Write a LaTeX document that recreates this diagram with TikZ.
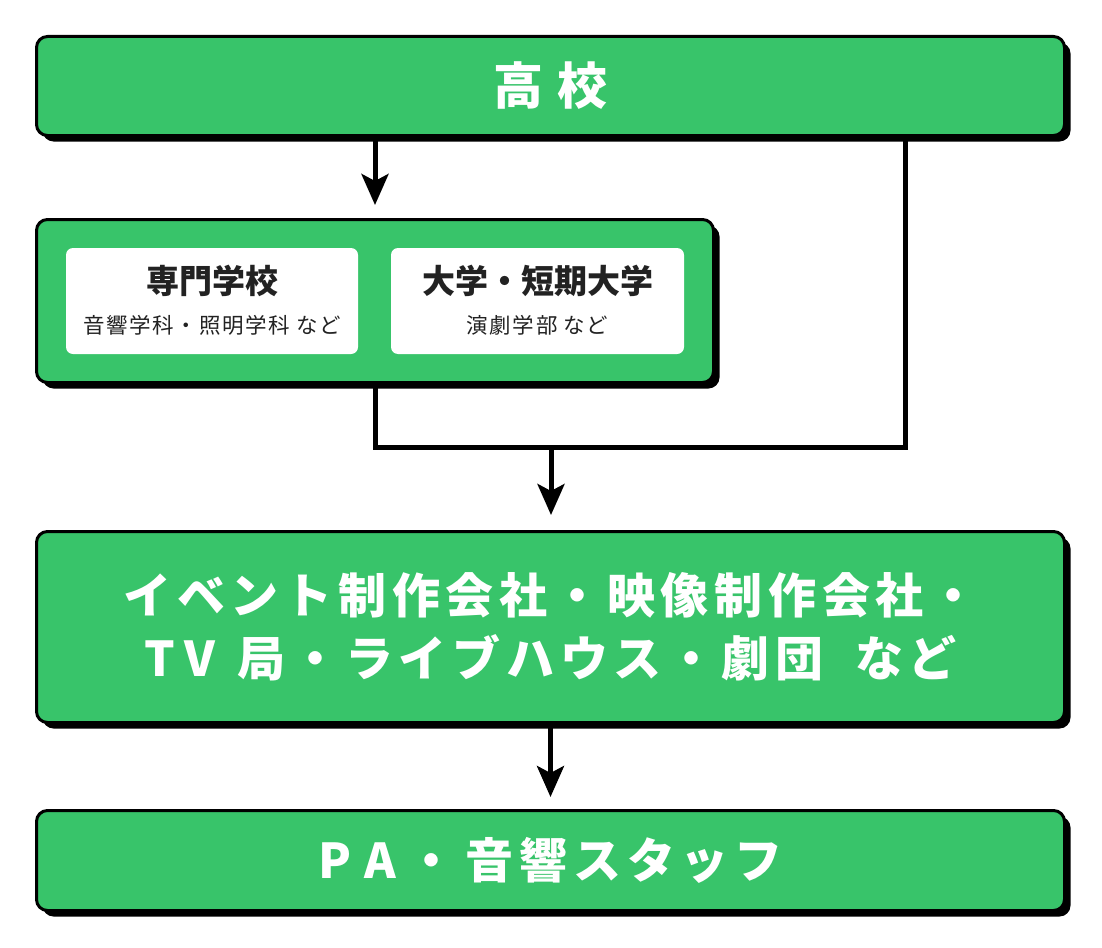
\documentclass[tikz,border=0pt]{standalone}
\usepackage{fontspec}
\setmainfont{Noto Sans CJK JP}
\usetikzlibrary{arrows.meta,shadows}
\definecolor{boxgreen}{RGB}{56,196,106}
\definecolor{inktext}{RGB}{34,34,34}

\begin{document}
\begin{tikzpicture}[x=1pt,y=-1pt,
    greenbox/.style={draw=black, line width=3pt, fill=boxgreen, rounded corners=11pt, inner sep=0pt,
        drop shadow={shadow xshift=6pt, shadow yshift=-6pt, fill=black, opacity=1},
        text=white, align=center,
        font=\fontsize{48}{63}\selectfont\bfseries\addfontfeature{LetterSpace=12}},
    whitebox/.style={fill=white, rounded corners=7pt, inner sep=0pt},
    headtext/.style={text=inktext, font=\fontsize{33}{33}\selectfont\bfseries},
    subtext/.style={text=inktext, font=\fontsize{21.5}{21.5}\selectfont\addfontfeature{LetterSpace=8}},
    link/.style={line width=5pt},
    flow/.style={line width=5pt, -{Stealth[length=31pt,width=27pt,inset=7pt]}}]
    \useasboundingbox (0,0) rectangle (1102,947);

    % High school
    \node[greenbox, minimum width=1028, minimum height=99] (hs) at (550.5,86)
        {\fontsize{50}{50}\selectfont 高\hspace{14pt}校};

    % Schools after high school
    \node[greenbox, minimum width=677, minimum height=163] (school) at (375,301) {};
    \node[whitebox, minimum width=292, minimum height=106] (senmon) at (212,301) {};
    \node[whitebox, minimum width=293, minimum height=106] (daigaku) at (537.5,301) {};
    \node[headtext] (senmontitle) at (212,281) {専門学校};
    \node[subtext] (senmonsub) at (212,325) {音響学科・照明学科\hspace{6pt}など};
    \node[headtext] (daigakutitle) at (537.5,281) {大学・短期大学};
    \node[subtext] (daigakusub) at (537.5,325) {演劇学部\hspace{6pt}など};

    % Workplaces
    \node[greenbox, minimum width=1028, minimum height=191] (work) at (550.5,627)
        {イベント制作会社・映像制作会社・\\T\kern10pt V\hspace{22pt}局・ライブハウス・劇団\hspace{32pt}など};
    \node[greenbox, minimum width=1028, minimum height=100] (pa) at (550.5,860.5)
        {P\kern13pt A\kern12pt・\kern10pt 音響スタッフ};

    % Connectors
    \coordinate (join) at (551,447);
    \coordinate (joinright) at (905,447);
    \draw[flow, shorten >=13pt] (hs.south -| school.north) -- (school.north);
    \draw[link] (school.south) |- (joinright) -- (joinright |- hs.south);
    \draw[flow, shorten >=15pt] (join) -- (join |- work.north);
    \draw[flow, shorten >=12pt] (work.south) -- (pa.north);
\end{tikzpicture}
\end{document}
